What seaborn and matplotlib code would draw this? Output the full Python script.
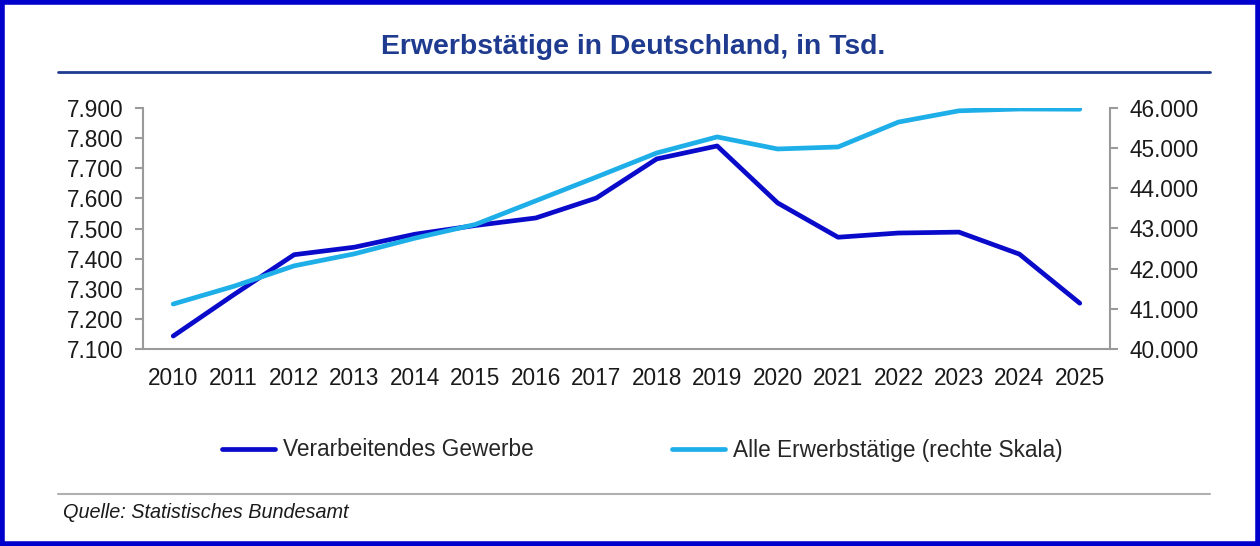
import matplotlib
matplotlib.use("Agg")
import matplotlib.pyplot as plt
from matplotlib.lines import Line2D
from matplotlib.patches import Rectangle
from matplotlib.ticker import FuncFormatter, FixedLocator
import seaborn as sns
import pandas as pd

years = [str(y) for y in range(2010, 2026)]
verarbeitendes = [7143, 7280, 7413, 7438, 7481, 7510, 7535, 7601, 7731, 7774,
                  7585, 7471, 7485, 7488, 7415, 7252]
alle = [41120, 41560, 42070, 42370, 42760, 43100, 43690, 44280, 44880, 45280,
        44980, 45030, 45650, 45930, 45975, 45970]

dark = "#0A0ACB"
light = "#1EAEE8"
title_blue = "#1F3B8F"
grey = "#9A9A9A"
fs = 16.3

df = pd.DataFrame({"Jahr": years, "vg": verarbeitendes, "alle": alle})

sns.set_style("white")
plt.rcParams["font.family"] = ["Liberation Sans", "DejaVu Sans"]

fig = plt.figure(figsize=(12.6, 5.46), dpi=100)
ax = fig.add_axes([143 / 1260, 1 - 349 / 546, (1110 - 143) / 1260, (349 - 108) / 546])

sns.lineplot(data=df, x="Jahr", y="vg", ax=ax, color=dark, linewidth=3.4, sort=False)
ax2 = ax.twinx()
sns.lineplot(data=df, x="Jahr", y="alle", ax=ax2, color=light, linewidth=3.4, sort=False)

ax.set_xlim(-0.5, len(years) - 0.5)
ax.set_ylim(7100, 7900)
ax.set_yticks(range(7100, 7901, 100))
ax2.set_ylim(40000, 46000)
ax2.set_yticks(range(40000, 46001, 1000))

fmt = FuncFormatter(lambda v, p: f"{v:,.0f}".replace(",", "."))
ax.yaxis.set_major_formatter(fmt)
ax2.yaxis.set_major_formatter(fmt)

ax.set_xticks(range(len(years)))
ax.set_xticklabels(years)
ax.xaxis.set_minor_locator(FixedLocator([i - 0.5 for i in range(len(years) + 1)]))
ax.tick_params(axis="x", which="major", length=0, pad=13, labelsize=fs, colors="#1a1a1a")
ax.tick_params(axis="x", which="minor", length=6, width=1.5, color=grey, direction="out")
ax.tick_params(axis="y", length=6, width=1.5, color=grey, direction="out", pad=8,
               labelsize=fs, labelcolor="#1a1a1a", left=True)
ax2.tick_params(axis="y", length=6, width=1.5, color=grey, direction="out", pad=8,
                labelsize=fs, labelcolor="#1a1a1a", right=True)

for a in (ax, ax2):
    a.set_xlabel("")
    a.set_ylabel("")
    a.spines["top"].set_visible(False)
    for s in ("left", "right", "bottom"):
        a.spines[s].set_color(grey)
        a.spines[s].set_linewidth(1.5)
ax.spines["right"].set_visible(False)
ax2.spines["left"].set_visible(False)
ax2.spines["bottom"].set_visible(False)

# title and rules
fig.text(0.5 + 3 / 1260, 1 - 47 / 546, "Erwerbstätige in Deutschland, in Tsd.", ha="center",
         va="center", fontsize=20.4, fontweight="bold", color=title_blue)
fig.add_artist(Line2D([58 / 1260, 1210 / 1260], [1 - 72 / 546] * 2, color=title_blue, lw=2))
fig.add_artist(Line2D([58 / 1260, 1210 / 1260], [1 - 494 / 546] * 2, color="#B0B0B0", lw=1.5))
fig.text(63 / 1260, 1 - 512 / 546, "Quelle: Statistisches Bundesamt", ha="left", va="center",
         fontsize=14.3, style="italic", color="#1a1a1a")

handles = [Line2D([], [], color=dark, lw=3.4), Line2D([], [], color=light, lw=3.4)]
fig.legend(handles, ["Verarbeitendes Gewerbe", "Alle Erwerbstätige (rechte Skala)"],
           loc="center", bbox_to_anchor=(0.5 + 12 / 1260, 1 - 450 / 546), ncol=2,
           frameon=False, fontsize=fs, handlelength=2.35, handletextpad=0.35,
           columnspacing=6.1)

# blue frame
fig.add_artist(Rectangle((0.0016, 0.0036), 0.9968, 0.9928, transform=fig.transFigure,
                         fill=False, edgecolor="#0000CC", lw=4))

fig.savefig("out.png", dpi=100)
